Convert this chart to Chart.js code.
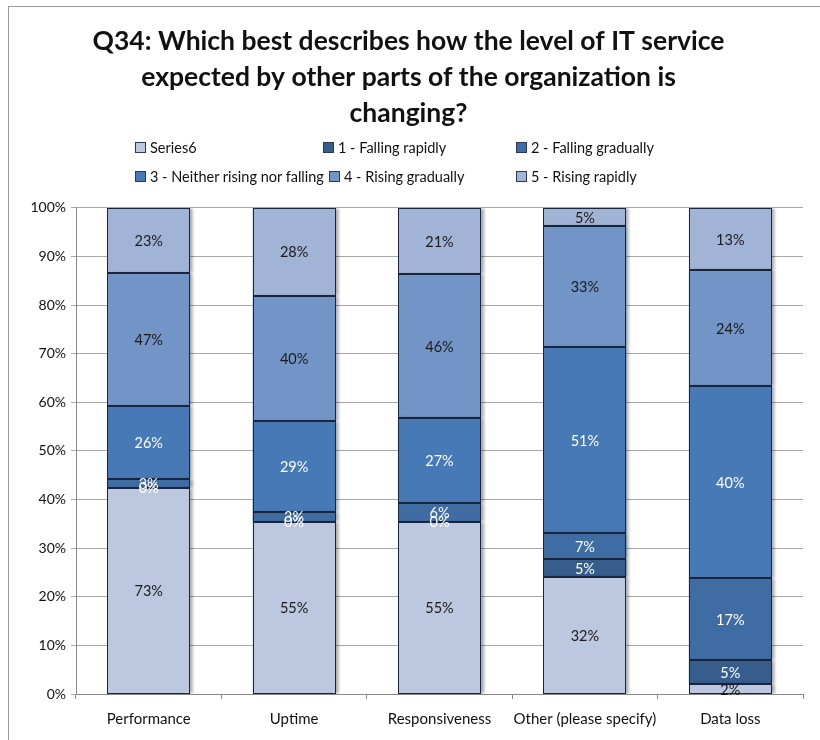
<!DOCTYPE html>
<html>
<head>
<meta charset="utf-8">
<script src="https://cdn.jsdelivr.net/npm/chart.js@4.4.1/dist/chart.umd.min.js"></script>
<style>
  body { margin: 0; background: #fff; font-family: Lato, "Liberation Sans", sans-serif; }
  #wrap { position: relative; width: 820px; height: 740px; overflow: hidden; }
  #frame { position: absolute; left: 8px; top: 6px; width: 900px; height: 900px;
           border-top: 1px solid #9a9a9a; border-left: 1px solid #9a9a9a; }
  #chart { position: absolute; left: 0; top: 0; }
  #legend { position: absolute; left: 0; top: 0; width: 820px; height: 200px; }
  .lg { position: absolute; font-size: 14.5px; color: #111; white-space: nowrap; line-height: 16px; }
  .lg span.box { display: inline-block; width: 9px; height: 9px; border: 1px solid #2a3a55;
                 margin-right: 4px; vertical-align: 0px; }
</style>
</head>
<body>
<div id="wrap">
  <div id="frame"></div>
  <canvas id="chart" width="820" height="740"></canvas>
  <div id="legend"></div>
</div>
<script>
// Dữ liệu: giá trị phần trăm ghi trên từng đoạn cột
const categories = ['Performance', 'Uptime', 'Responsiveness', 'Other (please specify)', 'Data loss'];
const seriesNames = ['Series6', '1 - Falling rapidly', '2 - Falling gradually',
                     '3 - Neither rising nor falling', '4 - Rising gradually', '5 - Rising rapidly'];
const series6          = [73, 55, 55, 32, 2];
const fallingRapidly   = [0, 0, 0, 5, 5];
const fallingGradually = [3, 3, 6, 7, 17];
const neither          = [26, 29, 27, 51, 40];
const risingGradually  = [47, 40, 46, 33, 24];
const risingRapidly    = [23, 28, 21, 5, 13];
const yTicks = [0, 10, 20, 30, 40, 50, 60, 70, 80, 90, 100];

const allSeries = [series6, fallingRapidly, fallingGradually, neither, risingGradually, risingRapidly];
const colors = ['#bcc8df', '#375d8c', '#3f6ca3', '#4879b7', '#7294c7', '#a1b4d6'];
const labelColors = ['#1a1a1a', '#ffffff', '#ffffff', '#ffffff', '#1a1a1a', '#1a1a1a'];

// tổng mỗi cột để chuẩn hoá về 100%
const totals = categories.map((c, j) => allSeries.reduce((s, arr) => s + arr[j], 0));

const datasets = allSeries.map((arr, i) => ({
    label: seriesNames[i],
    raw: arr,
    data: arr.map((v, j) => v / totals[j] * 100),
    backgroundColor: colors[i],
    borderWidth: 0,
    categoryPercentage: 1,
    barPercentage: 0.57
}));

// viền sắc nét + nhãn giá trị trên từng đoạn
const segmentLabels = {
    id: 'segmentLabels',
    beforeDatasetsDraw(chart) {
        const ctx = chart.ctx;
        ctx.save();
        ctx.shadowColor = 'rgba(0,0,0,0.35)';
        ctx.shadowOffsetX = 3;
        ctx.shadowOffsetY = 0;
        ctx.shadowBlur = 3;
    },
    afterDatasetsDraw(chart) {
        const ctx = chart.ctx;
        ctx.restore();
        ctx.save();
        ctx.strokeStyle = '#18253c';
        ctx.lineWidth = 1;
        chart.data.datasets.forEach((ds, i) => {
            chart.getDatasetMeta(i).data.forEach(bar => {
                const p = bar.getProps(['x', 'y', 'base', 'width'], true);
                const l = Math.round(p.x - p.width / 2) + 0.5;
                const r = Math.round(p.x + p.width / 2) - 0.5;
                const t = Math.round(p.y) + 0.5;
                const b = Math.round(p.base) - 0.5;
                ctx.strokeRect(l, t, r - l, b - t);
            });
        });
        ctx.font = '14.5px Lato, "Liberation Sans", sans-serif';
        ctx.textAlign = 'center';
        ctx.textBaseline = 'middle';
        chart.data.datasets.forEach((ds, i) => {
            chart.getDatasetMeta(i).data.forEach((bar, j) => {
                const p = bar.getProps(['x', 'y', 'base'], true);
                ctx.fillStyle = labelColors[i];
                ctx.fillText(ds.raw[j] + '%', p.x, (p.y + p.base) / 2 + 1);
            });
        });
        ctx.restore();
    }
};

const chart = new Chart(document.getElementById('chart').getContext('2d'), {
    type: 'bar',
    data: { labels: categories, datasets: datasets },
    options: {
        responsive: false,
        animation: false,
        layout: { padding: { left: 14, right: 17, top: 3, bottom: 1 } },
        plugins: {
            legend: { display: false },
            tooltip: { enabled: false },
            title: {
                display: true,
                text: ['Q34: Which best describes how the level of IT service',
                       'expected by other parts of the organization is',
                       'changing?'],
                color: '#111',
                font: { family: 'Lato', size: 26.5, weight: 'bold', lineHeight: 1.37 },
                padding: { top: 20, bottom: 76 }
            }
        },
        scales: {
            x: {
                stacked: true,
                grid: { drawOnChartArea: false, drawTicks: true, tickLength: 5, color: '#888', offset: true },
                border: { color: '#888' },
                ticks: { color: '#111', padding: 11, autoSkip: false, font: { family: 'Lato', size: 15 }, maxRotation: 0 }
            },
            y: {
                stacked: true,
                min: 0,
                max: 100,
                afterFit(scale) { scale.width = 62; },
                afterBuildTicks(scale) { scale.ticks = yTicks.map(v => ({ value: v })); },
                grid: { color: '#a8a8a8', tickLength: 5 },
                border: { color: '#888' },
                ticks: { color: '#111', padding: 5, font: { family: 'Lato', size: 14 },
                         callback: v => v + '%' }
            }
        }
    },
    plugins: [segmentLabels]
});

// chú giải dạng lưới 3 cột như bản gốc
const legendPos = [[135, 148], [323, 148], [516, 148], [135, 177], [329, 177], [516, 177]];
const legendEl = document.getElementById('legend');
chart.data.datasets.forEach((ds, i) => {
    const d = document.createElement('div');
    d.className = 'lg';
    d.style.left = legendPos[i][0] + 'px';
    d.style.top = (legendPos[i][1] - 8) + 'px';
    d.innerHTML = '<span class="box" style="background:' + ds.backgroundColor + '"></span>' + ds.label;
    legendEl.appendChild(d);
});
</script>
</body>
</html>
